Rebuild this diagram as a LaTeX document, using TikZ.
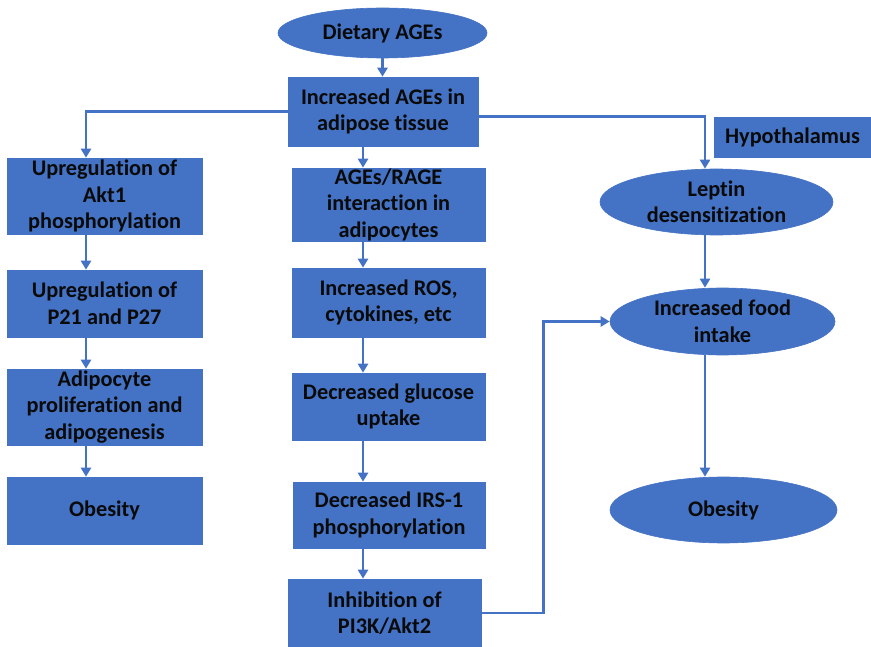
\documentclass[tikz,border=0pt]{standalone}
\usepackage{fontspec}
\setmainfont{Carlito}[RawFeature={-liga;-clig;-dlig}]
\usetikzlibrary{shapes.geometric,arrows.meta}
\definecolor{ob}{HTML}{4472C4}
\definecolor{txt}{HTML}{0A0A0A}
\begin{document}
\begin{tikzpicture}[x=1pt,y=-1pt,
  every node/.style={font=\fontsize{22.3}{26.5}\selectfont\bfseries, text=txt, align=center},
  boxn/.style={rectangle, fill=ob, draw=ob, line width=0.6pt, inner sep=0pt},
  ovaln/.style={ellipse, fill=ob, draw=ob, line width=0.6pt, inner xsep=0pt, inner ysep=-12pt},
  arr/.style={draw=ob, line width=2.4pt, -{Triangle[width=10pt,length=9pt]}},
  ln/.style={draw=ob, line width=2.4pt}]
\useasboundingbox (0,0) rectangle (871,647);
\coordinate (lx) at (86,0);
\coordinate (mx) at (363,0);
\coordinate (rx) at (705,0);
% top
\node[ovaln, minimum width=209pt, minimum height=50pt] (diet) at (382.5,33) {Dietary AGEs};
\node[boxn, minimum width=190pt, minimum height=69pt] (incr) at (383,111.5) {Increased AGEs in\\adipose tissue};
% left column
\node[boxn, minimum width=195pt, minimum height=76pt] (akt) at (104.5,196) {Upregulation of\\Akt1\\phosphorylation};
\node[boxn, minimum width=195pt, minimum height=67pt] (p21) at (104.5,303.5) {Upregulation of\\P21 and P27};
\node[boxn, minimum width=195pt, minimum height=76pt] (adi) at (104.5,407) {Adipocyte\\proliferation and\\adipogenesis};
\node[boxn, minimum width=195pt, minimum height=67pt] (obl) at (104.5,510.5) {Obesity};
% middle column
\node[boxn, minimum width=193pt, minimum height=73pt] (rage) at (388.5,204.5) {AGEs/RAGE\\interaction in\\adipocytes};
\node[boxn, minimum width=193pt, minimum height=69pt] (ros) at (388.5,302.5) {Increased ROS,\\cytokines, etc};
\node[boxn, minimum width=193pt, minimum height=67pt] (glu) at (388.5,406.5) {Decreased glucose\\uptake};
\node[boxn, minimum width=192pt, minimum height=66pt] (irs) at (389,515) {Decreased IRS-1\\phosphorylation};
\node[boxn, minimum width=193pt, minimum height=68pt] (pik) at (384.5,613) {Inhibition of\\PI3K/Akt2};
% right column
\node[boxn, minimum width=157pt, minimum height=40pt] (hyp) at (792.5,137) {Hypothalamus};
\node[ovaln, minimum width=233pt, minimum height=66pt] (lep) at (716.5,202) {Leptin\\desensitization};
\node[ovaln, minimum width=225pt, minimum height=67pt] (food) at (722.5,321.5) {Increased food\\intake};
\node[ovaln, minimum width=227pt, minimum height=66pt] (obr) at (723.5,510) {Obesity};
% connectors
\draw[arr] (diet.south) -- (incr.north -| diet.south);
\draw[arr] (incr.west) -| (akt.north -| lx);
\draw[arr] ([yshift=-5pt]incr.east) -| (lep.north -| rx);
\draw[arr] (incr.south -| mx) -- (rage.north -| mx);
\draw[arr] (akt.south -| lx) -- (p21.north -| lx);
\draw[arr] (p21.south -| lx) -- (adi.north -| lx);
\draw[arr] (adi.south -| lx) -- (obl.north -| lx);
\draw[arr] (rage.south -| mx) -- (ros.north -| mx);
\draw[arr] (ros.south -| mx) -- (glu.north -| mx);
\draw[arr] (glu.south -| mx) -- (irs.north -| mx);
\draw[arr] (irs.south -| mx) -- (pik.north -| mx);
\draw[arr] (lep.south -| rx) -- (food.north -| rx);
\draw[arr] (food.south -| rx) -- (obr.north -| rx);
\draw[arr] (pik.east) -- ++(62,0) |- (food.west);
\end{tikzpicture}
\end{document}
